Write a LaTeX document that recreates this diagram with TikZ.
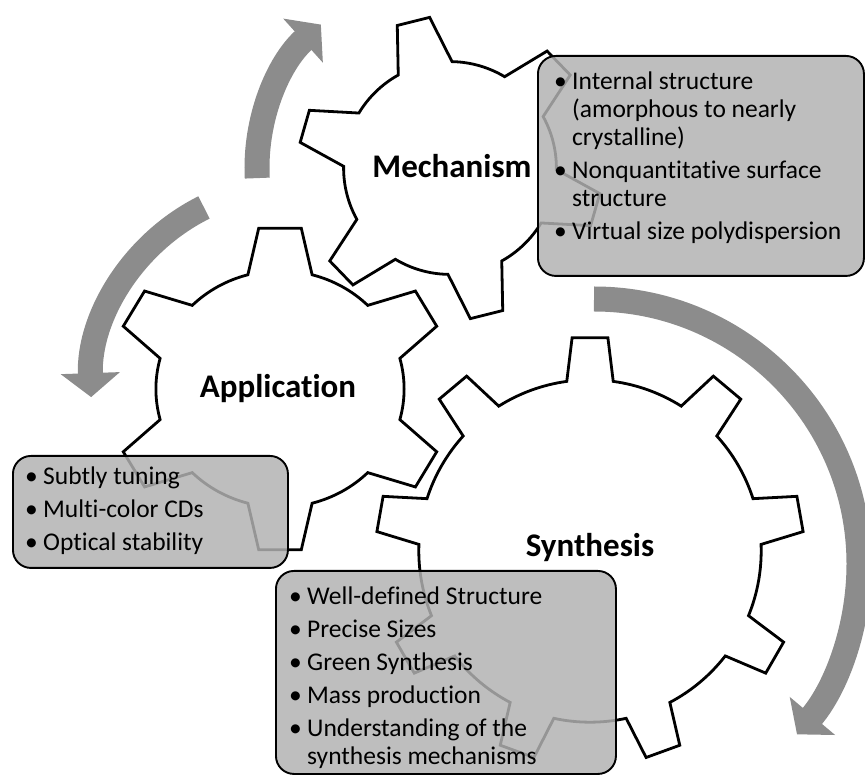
\documentclass[tikz,border=0pt]{standalone}
\usepackage{fontspec}
\setmainfont[Ligatures=NoCommon]{Carlito}
\usetikzlibrary{arrows.meta}

\definecolor{arrowgray}{RGB}{140,140,140}
\definecolor{boxgray}{RGB}{178,178,178}

\tikzset{
    gearline/.style={line width=2.8pt, draw=black, fill=white, line join=miter},
    gearlabel/.style={font=\fontsize{33}{38}\selectfont\bfseries, anchor=base},
    infobox/.style={draw=black, line width=1.9pt, fill=boxgray, fill opacity=0.84,
        rounded corners=18pt, anchor=north west, inner sep=0pt},
    listtext/.style={font=\fontsize{25.5}{28}\selectfont, anchor=base west, inner sep=0pt},
    cyclearrow/.style={draw=arrowgray, line width=25pt, -{Triangle[width=58pt,length=24pt]}},
}

\newcommand{\bul}{\makebox[18pt][l]{\textbullet}}

% gear: centre, teeth, first tooth angle, x radius, y radius, root factor, tip half angle, base half angle
\newcommand{\drawgear}[8]{%
    \pgfmathsetmacro{\gstep}{360/#2}%
    \pgfmathsetmacro{\rrx}{#6*#4}%
    \pgfmathsetmacro{\rry}{#6*#5}%
    \draw[gearline, shift={(#1)}] ({\rrx*cos(#3-#8)},{\rry*sin(#3-#8)})
        \foreach \k in {1,...,#2}{
            -- ({#4*cos(#3+(\k-1)*\gstep-#7)},{#5*sin(#3+(\k-1)*\gstep-#7)})
            -- ({#4*cos(#3+(\k-1)*\gstep+#7)},{#5*sin(#3+(\k-1)*\gstep+#7)})
            -- ({\rrx*cos(#3+(\k-1)*\gstep+#8)},{\rry*sin(#3+(\k-1)*\gstep+#8)})
            arc[start angle={#3+(\k-1)*\gstep+#8}, end angle={#3+\k*\gstep-#8},
                x radius=\rrx, y radius=\rry]
        } -- cycle;
}

\begin{document}
\begin{tikzpicture}[x=1pt, y=1pt]
    \useasboundingbox (0,0) rectangle (865,777);

    \coordinate (mechc) at (450,609);
    \coordinate (appc) at (280,388);
    \coordinate (sync) at (590,226);

    % gears
    \drawgear{sync}{9}{10}{214}{214}{0.80}{4.8}{7.8}
    \drawgear{appc}{6}{30}{170}{162}{0.73}{7.2}{15}
    \drawgear{mechc}{6}{44}{152}{152}{0.70}{6.3}{15.1}

    % turning arrows
    \draw[cyclearrow] ([shift={(183:193)}]mechc) arc[start angle=183, end angle=132, radius=193];
    \draw[cyclearrow] ([shift={(116.5:204)}]295,387) arc[start angle=116.5, end angle=182, radius=204];
    \draw[cyclearrow] ([shift={(90:265)}]594,213) arc[start angle=90, end angle=-40, radius=265];

    \node[gearlabel] (mechlabel) at (452,599) {Mechanism};
    \node[gearlabel] (applabel) at (278,379) {Application};
    \node[gearlabel] (synlabel) at (590,220) {Synthesis};

    % boxes
    \node[infobox, minimum width=326pt, minimum height=220pt] (mechbox) at (537,722) {};
    \node[listtext] (mechlist) at (554,687) {\begin{tabular}[t]{@{}l@{}l@{}}
        \bul & Internal structure\\
             & (amorphous to nearly\\
             & crystalline)\\[5pt]
        \bul & Nonquantitative surface\\
             & structure\\[5pt]
        \bul & Virtual size polydispersion
    \end{tabular}};

    \node[infobox, minimum width=275pt, minimum height=112pt] (appbox) at (12,322) {};
    \node[listtext] (applist) at (25,292) {\begin{tabular}[t]{@{}l@{}l@{}}
        \bul & Subtly tuning\\[5pt]
        \bul & Multi-color CDs\\[5pt]
        \bul & Optical stability
    \end{tabular}};

    \node[infobox, minimum width=340pt, minimum height=203pt] (synbox) at (275,207) {};
    \node[listtext] (synlist) at (289,172) {\begin{tabular}[t]{@{}l@{}l@{}}
        \bul & Well-defined Structure\\[5pt]
        \bul & Precise Sizes\\[5pt]
        \bul & Green Synthesis\\[5pt]
        \bul & Mass production\\[5pt]
        \bul & Understanding of the\\
             & synthesis mechanisms
    \end{tabular}};
\end{tikzpicture}
\end{document}
